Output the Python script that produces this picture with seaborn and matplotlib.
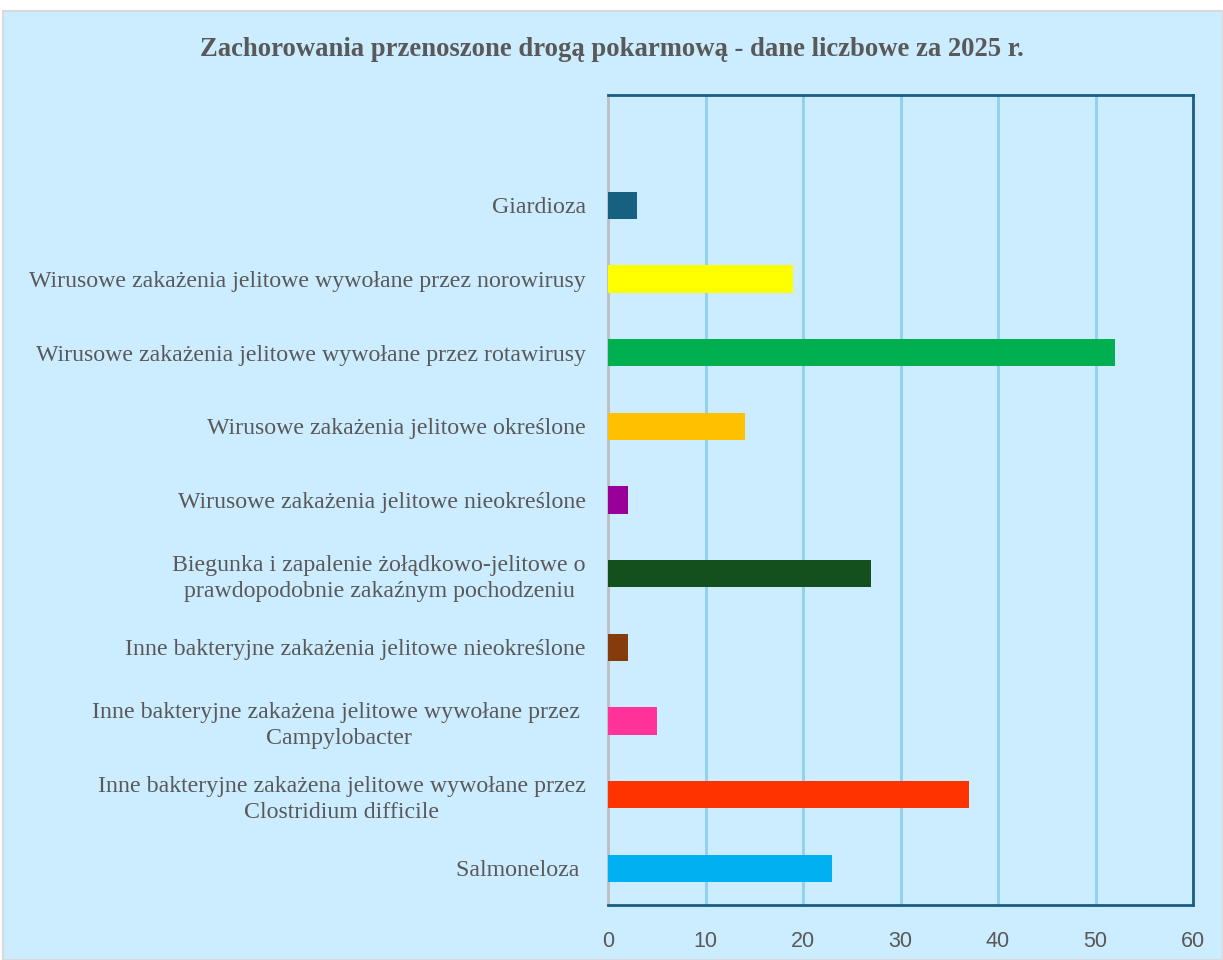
import matplotlib
matplotlib.use("Agg")
import matplotlib.pyplot as plt
import seaborn as sns
import pandas as pd
from matplotlib.patches import Rectangle

categories = [
    "Giardioza",
    "Wirusowe zakażenia jelitowe wywołane przez norowirusy",
    "Wirusowe zakażenia jelitowe wywołane przez rotawirusy",
    "Wirusowe zakażenia jelitowe określone",
    "Wirusowe zakażenia jelitowe nieokreślone",
    "Biegunka i zapalenie żołądkowo-jelitowe o\nprawdopodobnie zakaźnym pochodzeniu",
    "Inne bakteryjne zakażenia jelitowe nieokreślone",
    "Inne bakteryjne zakażena jelitowe wywołane przez \nCampylobacter",
    "Inne bakteryjne zakażena jelitowe wywołane przez\nClostridium difficile",
    "Salmoneloza ",
]
values = [3, 19, 52, 14, 2, 27, 2, 5, 37, 23]
colors = ["#17607F", "#FFFF00", "#00B050", "#FFC000", "#990099",
          "#14501E", "#843C0C", "#FF3399", "#FF3300", "#00B0F0"]
xticks = [0, 10, 20, 30, 40, 50, 60]
title = "Zachorowania przenoszone drogą pokarmową - dane liczbowe za 2025 r."

bg = "#CCECFF"
sns.set_theme(style="white")
plt.rcParams['font.family'] = ['Liberation Serif', 'DejaVu Serif']

fig = plt.figure(figsize=(12.23, 9.6), dpi=100, facecolor="white")
fig.patches.append(Rectangle((3/1223, 0), 1 - 3/1223, 1 - 11/960, transform=fig.transFigure,
                             facecolor=bg, edgecolor="#D9D9D9", linewidth=1.5, zorder=-10))
ax = fig.add_axes([608/1223, 1 - 905/960, (1193-608)/1223, (905-95)/960])
ax.set_facecolor(bg)

df = pd.DataFrame({"cat": categories, "val": values})
sns.barplot(data=df, y="cat", x="val", hue="cat", palette=colors, legend=False,
            orient="h", width=0.37, saturation=1, linewidth=0, ax=ax, zorder=3)

ax.set_xlim(0, 60)
ax.set_ylim(9.5, -1.5)
ax.set_xticks(xticks)
ax.set_xlabel("")
ax.set_ylabel("")
ax.xaxis.grid(True, color="#8FCFEF", linewidth=2, zorder=0)
ax.set_axisbelow(True)

for s in ["top", "right", "bottom"]:
    ax.spines[s].set_color("#1B5E84")
    ax.spines[s].set_linewidth(2)
ax.spines["left"].set_color("#BFBFBF")
ax.spines["left"].set_linewidth(2)

ax.tick_params(axis="y", length=0, pad=16, labelsize=17.2, labelcolor="#595959")
ax.tick_params(axis="x", length=0, pad=19, labelsize=15.5, labelcolor="#595959")
for lab in ax.get_yticklabels():
    lab.set_multialignment("center")
    lab.set_linespacing(1.3)
for lab in ax.get_xticklabels():
    lab.set_fontfamily(["Liberation Sans", "DejaVu Sans"])

fig.text(0.5, 1 - 50/960, title, ha="center", va="center", fontsize=19.2,
         fontweight="bold", color="#595959")

fig.savefig("out.png", dpi=100, facecolor="white")
